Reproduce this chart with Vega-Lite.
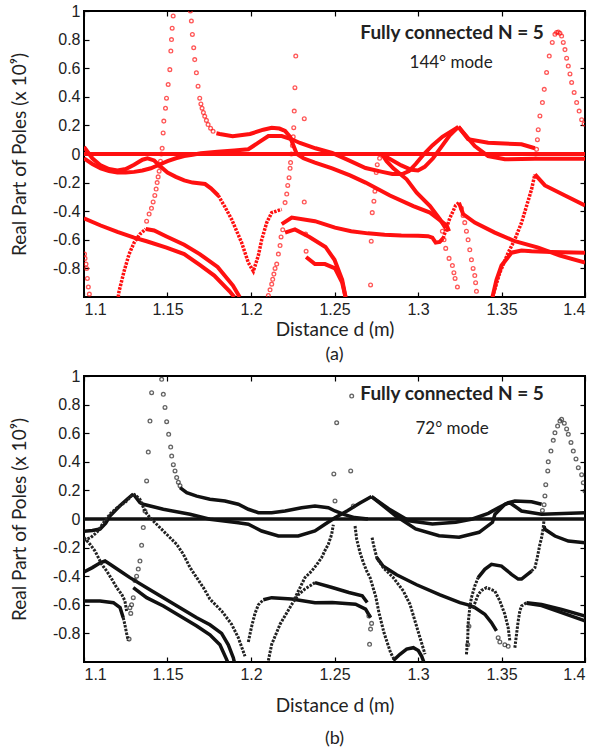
{
  "$schema": "https://vega.github.io/schema/vega-lite/v6.json",
  "padding": {"left": 9, "top": 2, "right": 5, "bottom": 5},
  "background": "white",
  "spacing": 2,
  "config": {
    "view": {"stroke": "black", "strokeWidth": 2},
    "axis": {"labelFont": "Liberation Sans", "labelFontSize": 16, "labelColor": "#222", "titleFont": "Lato", "titleFontSize": 19, "titleFontWeight": "normal", "titleColor": "#222", "grid": false, "domain": false, "tickColor": "black", "tickSize": -5, "tickWidth": 1.2}
  },
  "datasets": {
    "aL": [
      {"s":"z","x":1.1,"y":0},{"s":"z","x":1.4,"y":0},
      {"s":"a1","x":1.1,"y":0.05},{"s":"a1","x":1.105,"y":-0.03},{"s":"a1","x":1.11,"y":-0.08},{"s":"a1","x":1.115,"y":-0.105},{"s":"a1","x":1.12,"y":-0.115},{"s":"a1","x":1.125,"y":-0.105},{"s":"a1","x":1.13,"y":-0.075},{"s":"a1","x":1.135,"y":-0.04},{"s":"a1","x":1.138,"y":-0.03},{"s":"a1","x":1.142,"y":-0.045},{"s":"a1","x":1.146,"y":-0.09},{"s":"a1","x":1.15,"y":-0.13},{"s":"a1","x":1.155,"y":-0.16},{"s":"a1","x":1.16,"y":-0.185},{"s":"a1","x":1.165,"y":-0.2},{"s":"a1","x":1.1725,"y":-0.21},{"s":"a1","x":1.176,"y":-0.24},{"s":"a1","x":1.1804,"y":-0.29},
      {"s":"a2","x":1.1,"y":-0.03},{"s":"a2","x":1.105,"y":-0.07},{"s":"a2","x":1.11,"y":-0.1},{"s":"a2","x":1.115,"y":-0.12},{"s":"a2","x":1.12,"y":-0.13},{"s":"a2","x":1.125,"y":-0.13},{"s":"a2","x":1.13,"y":-0.125},{"s":"a2","x":1.135,"y":-0.115},{"s":"a2","x":1.14,"y":-0.1},{"s":"a2","x":1.145,"y":-0.075},{"s":"a2","x":1.15,"y":-0.05},{"s":"a2","x":1.155,"y":-0.03},{"s":"a2","x":1.16,"y":-0.015},{"s":"a2","x":1.165,"y":-0.005},{"s":"a2","x":1.17,"y":0.005},{"s":"a2","x":1.18,"y":0.015},{"s":"a2","x":1.19,"y":0.025},{"s":"a2","x":1.1984,"y":0.033},{"s":"a2","x":1.2044,"y":0.079},{"s":"a2","x":1.2104,"y":0.126},{"s":"a2","x":1.2184,"y":0.126},{"s":"a2","x":1.2244,"y":0.103},{"s":"a2","x":1.2293,"y":0.077},{"s":"a2","x":1.2386,"y":0.04},{"s":"a2","x":1.2486,"y":0.007},{"s":"a2","x":1.2586,"y":-0.045},{"s":"a2","x":1.2686,"y":-0.098},{"s":"a2","x":1.2786,"y":-0.125},{"s":"a2","x":1.2846,"y":-0.14},{"s":"a2","x":1.2906,"y":-0.14},{"s":"a2","x":1.2946,"y":-0.12},{"s":"a2","x":1.2986,"y":-0.07},{"s":"a2","x":1.3036,"y":0.0},{"s":"a2","x":1.3086,"y":0.06},{"s":"a2","x":1.3146,"y":0.12},{"s":"a2","x":1.3242,"y":0.19},
      {"s":"a2b","x":1.3242,"y":0.19},{"s":"a2b","x":1.334,"y":0.056},{"s":"a2b","x":1.342,"y":-0.014},{"s":"a2b","x":1.352,"y":-0.037},{"s":"a2b","x":1.37,"y":-0.033},{"s":"a2b","x":1.4,"y":-0.033},
      {"s":"a2c","x":1.3242,"y":0.19},{"s":"a2c","x":1.33,"y":0.103},{"s":"a2c","x":1.342,"y":0.079},{"s":"a2c","x":1.362,"y":0.068},{"s":"a2c","x":1.37,"y":0.04},
      {"s":"a3","x":1.1793,"y":0.145},{"s":"a3","x":1.1813,"y":0.14},{"s":"a3","x":1.189,"y":0.124},{"s":"a3","x":1.1994,"y":0.14},{"s":"a3","x":1.2074,"y":0.17},{"s":"a3","x":1.2124,"y":0.184},{"s":"a3","x":1.217,"y":0.178},{"s":"a3","x":1.2204,"y":0.161},{"s":"a3","x":1.2234,"y":0.12},{"s":"a3","x":1.2254,"y":0.06},{"s":"a3","x":1.2274,"y":0.0},{"s":"a3","x":1.2314,"y":-0.03},{"s":"a3","x":1.2383,"y":-0.06},{"s":"a3","x":1.2486,"y":-0.1},{"s":"a3","x":1.2593,"y":-0.15},{"s":"a3","x":1.2686,"y":-0.2},{"s":"a3","x":1.2832,"y":-0.29},{"s":"a3","x":1.2972,"y":-0.364},{"s":"a3","x":1.3072,"y":-0.41},{"s":"a3","x":1.3172,"y":-0.5},{"s":"a3","x":1.3186,"y":-0.54},
      {"s":"a4a","x":1.2786,"y":-0.005},{"s":"a4a","x":1.2812,"y":-0.05},{"s":"a4a","x":1.2852,"y":-0.1},{"s":"a4a","x":1.2932,"y":-0.177},{"s":"a4a","x":1.2992,"y":-0.27},{"s":"a4a","x":1.3072,"y":-0.364},{"s":"a4a","x":1.3132,"y":-0.457},{"s":"a4a","x":1.3166,"y":-0.52},
      {"s":"a4b","x":1.2786,"y":-0.005},{"s":"a4b","x":1.284,"y":-0.04},{"s":"a4b","x":1.29,"y":-0.08},{"s":"a4b","x":1.296,"y":-0.11},{"s":"a4b","x":1.3,"y":-0.115},{"s":"a4b","x":1.304,"y":-0.09},{"s":"a4b","x":1.309,"y":-0.03},{"s":"a4b","x":1.314,"y":0.05},{"s":"a4b","x":1.319,"y":0.13},{"s":"a4b","x":1.3242,"y":0.19},
      {"s":"a5a","x":1.2184,"y":-0.49},{"s":"a5a","x":1.2244,"y":-0.445},{"s":"a5a","x":1.2383,"y":-0.47},{"s":"a5a","x":1.2503,"y":-0.515},{"s":"a5a","x":1.26,"y":-0.54},{"s":"a5a","x":1.27,"y":-0.555},{"s":"a5a","x":1.28,"y":-0.565},{"s":"a5a","x":1.29,"y":-0.57},{"s":"a5a","x":1.3,"y":-0.572},{"s":"a5a","x":1.306,"y":-0.575},{"s":"a5a","x":1.3086,"y":-0.585},{"s":"a5a","x":1.3106,"y":-0.62},{"s":"a5a","x":1.313,"y":-0.615},{"s":"a5a","x":1.315,"y":-0.59},
      {"s":"a5a2","x":1.3245,"y":-0.34},{"s":"a5a2","x":1.327,"y":-0.42},{"s":"a5a2","x":1.334,"y":-0.48},{"s":"a5a2","x":1.346,"y":-0.55},{"s":"a5a2","x":1.358,"y":-0.61},{"s":"a5a2","x":1.372,"y":-0.655},{"s":"a5a2","x":1.385,"y":-0.71},{"s":"a5a2","x":1.4,"y":-0.76},
      {"s":"a5b","x":1.2204,"y":-0.55},{"s":"a5b","x":1.2263,"y":-0.527},{"s":"a5b","x":1.235,"y":-0.58},{"s":"a5b","x":1.2446,"y":-0.65},{"s":"a5b","x":1.25,"y":-0.74},{"s":"a5b","x":1.2546,"y":-0.88},{"s":"a5b","x":1.2566,"y":-1.0},
      {"s":"a5c","x":1.233,"y":-0.72},{"s":"a5c","x":1.2383,"y":-0.77},{"s":"a5c","x":1.2443,"y":-0.77},{"s":"a5c","x":1.2503,"y":-0.8},{"s":"a5c","x":1.2546,"y":-0.9},{"s":"a5c","x":1.2566,"y":-1.0},
      {"s":"L1","x":1.1,"y":-0.45},{"s":"L1","x":1.11,"y":-0.5},{"s":"L1","x":1.12,"y":-0.545},{"s":"L1","x":1.13,"y":-0.585},{"s":"L1","x":1.1375,"y":-0.61},{"s":"L1","x":1.1494,"y":-0.654},{"s":"L1","x":1.16,"y":-0.7},{"s":"L1","x":1.1693,"y":-0.776},{"s":"L1","x":1.178,"y":-0.85},{"s":"L1","x":1.1872,"y":-0.96},{"s":"L1","x":1.19,"y":-1.0},
      {"s":"L2","x":1.137,"y":-0.525},{"s":"L2","x":1.142,"y":-0.535},{"s":"L2","x":1.1494,"y":-0.577},{"s":"L2","x":1.16,"y":-0.635},{"s":"L2","x":1.1693,"y":-0.7},{"s":"L2","x":1.18,"y":-0.79},{"s":"L2","x":1.1892,"y":-0.92},{"s":"L2","x":1.1932,"y":-1.0},
      {"s":"R1d","x":1.37,"y":-0.142},{"s":"R1d","x":1.376,"y":-0.22},{"s":"R1d","x":1.388,"y":-0.29},{"s":"R1d","x":1.4,"y":-0.36},
      {"s":"R2","x":1.3446,"y":-1.0},{"s":"R2","x":1.347,"y":-0.88},{"s":"R2","x":1.35,"y":-0.78},{"s":"R2","x":1.356,"y":-0.69},{"s":"R2","x":1.362,"y":-0.675},{"s":"R2","x":1.368,"y":-0.68},{"s":"R2","x":1.38,"y":-0.685},{"s":"R2","x":1.4,"y":-0.69}
    ],
    "aB": [
      {"s":"v","x":1.1804,"y":-0.29},{"s":"v","x":1.1844,"y":-0.37},{"s":"v","x":1.1884,"y":-0.457},{"s":"v","x":1.1944,"y":-0.62},{"s":"v","x":1.1984,"y":-0.76},{"s":"v","x":1.2014,"y":-0.82},{"s":"v","x":1.2044,"y":-0.71},{"s":"v","x":1.2064,"y":-0.6},{"s":"v","x":1.2094,"y":-0.48},{"s":"v","x":1.2124,"y":-0.41},{"s":"v","x":1.2184,"y":-0.387},
      {"s":"L2r","x":1.1205,"y":-1.0},{"s":"L2r","x":1.121,"y":-0.96},{"s":"L2r","x":1.124,"y":-0.82},{"s":"L2r","x":1.127,"y":-0.7},{"s":"L2r","x":1.13,"y":-0.62},{"s":"L2r","x":1.1335,"y":-0.56},{"s":"L2r","x":1.137,"y":-0.525},
      {"s":"R1r","x":1.3446,"y":-1.0},{"s":"R1r","x":1.349,"y":-0.83},{"s":"R1r","x":1.354,"y":-0.69},{"s":"R1r","x":1.358,"y":-0.597},{"s":"R1r","x":1.362,"y":-0.48},{"s":"R1r","x":1.365,"y":-0.364},{"s":"R1r","x":1.368,"y":-0.247},{"s":"R1r","x":1.37,"y":-0.142},
      {"s":"up","x":1.315,"y":-0.59},{"s":"up","x":1.317,"y":-0.52},{"s":"up","x":1.319,"y":-0.45},{"s":"up","x":1.321,"y":-0.4},{"s":"up","x":1.3225,"y":-0.36},{"s":"up","x":1.3245,"y":-0.34}
    ],
    "aD": [
      {"x":1.1003,"y":-0.7},{"x":1.1006,"y":-0.73},{"x":1.1012,"y":-0.77},{"x":1.1016,"y":-0.8},{"x":1.102,"y":-0.87},{"x":1.1026,"y":-0.93},{"x":1.1032,"y":-0.98},
      {"x":1.1375,"y":-0.47},{"x":1.139,"y":-0.42},{"x":1.1404,"y":-0.38},{"x":1.1414,"y":-0.335},{"x":1.1424,"y":-0.29},{"x":1.1432,"y":-0.245},{"x":1.1438,"y":-0.2},{"x":1.1444,"y":-0.16},{"x":1.145,"y":-0.12},{"x":1.1454,"y":-0.085},{"x":1.1458,"y":-0.05},{"x":1.1463,"y":0.0},{"x":1.1468,"y":0.04},{"x":1.1474,"y":0.147},{"x":1.1478,"y":0.23},{"x":1.1488,"y":0.32},{"x":1.1494,"y":0.39},{"x":1.1504,"y":0.486},{"x":1.1514,"y":0.59},{"x":1.152,"y":0.72},{"x":1.1524,"y":0.8},{"x":1.1528,"y":0.88},{"x":1.1534,"y":0.965},
      {"x":1.1637,"y":1.0},{"x":1.1643,"y":0.93},{"x":1.1649,"y":0.836},{"x":1.1657,"y":0.743},{"x":1.1663,"y":0.66},{"x":1.1673,"y":0.568},{"x":1.1683,"y":0.474},{"x":1.1693,"y":0.39},{"x":1.17,"y":0.35},{"x":1.1707,"y":0.32},{"x":1.1715,"y":0.29},{"x":1.1723,"y":0.264},{"x":1.1733,"y":0.235},{"x":1.1743,"y":0.206},{"x":1.1758,"y":0.18},{"x":1.1773,"y":0.159},
      {"x":1.2204,"y":-0.34},{"x":1.2214,"y":-0.28},{"x":1.222,"y":-0.22},{"x":1.2228,"y":-0.166},{"x":1.2234,"y":-0.1},{"x":1.2237,"y":-0.06},{"x":1.2242,"y":0.0},{"x":1.2248,"y":0.06},{"x":1.2253,"y":0.12},{"x":1.2256,"y":0.184},{"x":1.2259,"y":0.3},{"x":1.2263,"y":0.464},{"x":1.2268,"y":0.685},
      {"x":1.2319,"y":0.247},{"x":1.2319,"y":-0.336},{"x":1.2327,"y":-0.56},{"x":1.233,"y":-0.68},
      {"x":1.2104,"y":-0.99},{"x":1.2114,"y":-0.95},{"x":1.2124,"y":-0.91},{"x":1.213,"y":-0.876},{"x":1.2137,"y":-0.84},{"x":1.2144,"y":-0.8},{"x":1.2154,"y":-0.77},{"x":1.2164,"y":-0.7},{"x":1.2174,"y":-0.64},{"x":1.218,"y":-0.58},{"x":1.219,"y":-0.53},
      {"x":1.2716,"y":-0.916},{"x":1.272,"y":-0.61},{"x":1.2726,"y":-0.41},{"x":1.2736,"y":-0.33},{"x":1.2742,"y":-0.26},{"x":1.275,"y":-0.13},{"x":1.2756,"y":-0.075},{"x":1.277,"y":-0.03},
      {"x":1.326,"y":-0.38},{"x":1.327,"y":-0.43},{"x":1.328,"y":-0.48},{"x":1.329,"y":-0.54},{"x":1.33,"y":-0.6},{"x":1.331,"y":-0.67},{"x":1.332,"y":-0.74},{"x":1.333,"y":-0.8},{"x":1.334,"y":-0.85},{"x":1.3345,"y":-0.9},{"x":1.335,"y":-0.96},
      {"x":1.3146,"y":-0.54},{"x":1.3156,"y":-0.6},{"x":1.3166,"y":-0.66},{"x":1.3186,"y":-0.73},{"x":1.3206,"y":-0.78},{"x":1.3215,"y":-0.83},{"x":1.3222,"y":-0.87},{"x":1.3236,"y":-0.93},
      {"x":1.3705,"y":0.0},{"x":1.371,"y":0.033},{"x":1.3715,"y":0.1},{"x":1.372,"y":0.17},{"x":1.373,"y":0.266},{"x":1.3745,"y":0.36},{"x":1.3756,"y":0.452},{"x":1.377,"y":0.57},{"x":1.3786,"y":0.685},{"x":1.3804,"y":0.78},{"x":1.382,"y":0.837},{"x":1.383,"y":0.85},{"x":1.384,"y":0.853},{"x":1.385,"y":0.845},{"x":1.386,"y":0.825},{"x":1.387,"y":0.78},{"x":1.388,"y":0.73},{"x":1.389,"y":0.67},{"x":1.39,"y":0.615},{"x":1.391,"y":0.56},{"x":1.392,"y":0.5},{"x":1.3935,"y":0.43},{"x":1.395,"y":0.36},{"x":1.3965,"y":0.3},{"x":1.398,"y":0.24},{"x":1.3995,"y":0.21}
    ],
    "bL": [
      {"s":"z","x":1.1,"y":0},{"s":"z","x":1.4,"y":0},
      {"s":"b1","x":1.1,"y":-0.085},{"s":"b1","x":1.105,"y":-0.08},{"s":"b1","x":1.1096,"y":-0.07},{"s":"b1","x":1.113,"y":-0.03},{"s":"b1","x":1.1155,"y":0.02},{"s":"b1","x":1.1215,"y":0.093},{"s":"b1","x":1.126,"y":0.14},{"s":"b1","x":1.1295,"y":0.175},
      {"s":"b3","x":1.1295,"y":0.175},{"s":"b3","x":1.1335,"y":0.115},{"s":"b3","x":1.1355,"y":0.103},{"s":"b3","x":1.1475,"y":0.068},{"s":"b3","x":1.1635,"y":0.033},{"s":"b3","x":1.1754,"y":-0.002},{"s":"b3","x":1.1924,"y":-0.026},{"s":"b3","x":1.1984,"y":-0.037},{"s":"b3","x":1.2064,"y":-0.084},{"s":"b3","x":1.2164,"y":-0.119},{"s":"b3","x":1.2283,"y":-0.119},{"s":"b3","x":1.2383,"y":-0.084},{"s":"b3","x":1.2443,"y":-0.037},{"s":"b3","x":1.2503,"y":0.009},{"s":"b3","x":1.258,"y":0.06},{"s":"b3","x":1.265,"y":0.11},{"s":"b3","x":1.2722,"y":0.157},
      {"s":"b4","x":1.1575,"y":0.219},{"s":"b4","x":1.1615,"y":0.184},{"s":"b4","x":1.1675,"y":0.16},{"s":"b4","x":1.1754,"y":0.138},{"s":"b4","x":1.1844,"y":0.126},{"s":"b4","x":1.1924,"y":0.103},{"s":"b4","x":1.1984,"y":0.068},{"s":"b4","x":1.2044,"y":0.044},{"s":"b4","x":1.2124,"y":0.044},{"s":"b4","x":1.2204,"y":0.056},{"s":"b4","x":1.2303,"y":0.079},{"s":"b4","x":1.2383,"y":0.091},{"s":"b4","x":1.2463,"y":0.079},{"s":"b4","x":1.2503,"y":0.056},{"s":"b4","x":1.256,"y":0.03},{"s":"b4","x":1.262,"y":0.01},{"s":"b4","x":1.27,"y":0.0},
      {"s":"b3a","x":1.2722,"y":0.157},{"s":"b3a","x":1.2826,"y":0.07},{"s":"b3a","x":1.2946,"y":-0.012},{"s":"b3a","x":1.3086,"y":-0.035},{"s":"b3a","x":1.3226,"y":-0.023},{"s":"b3a","x":1.3326,"y":0.0},{"s":"b3a","x":1.3421,"y":0.04},{"s":"b3a","x":1.3481,"y":0.079},{"s":"b3a","x":1.3541,"y":0.114},{"s":"b3a","x":1.358,"y":0.126},{"s":"b3a","x":1.368,"y":0.121},{"s":"b3a","x":1.374,"y":0.103},
      {"s":"b3b","x":1.2722,"y":0.157},{"s":"b3b","x":1.2866,"y":0.023},{"s":"b3b","x":1.2986,"y":-0.07},{"s":"b3b","x":1.3126,"y":-0.117},{"s":"b3b","x":1.3246,"y":-0.128},{"s":"b3b","x":1.3366,"y":-0.093},{"s":"b3b","x":1.3446,"y":-0.023},{"s":"b3b","x":1.3461,"y":0.033},{"s":"b3b","x":1.3521,"y":0.103},{"s":"b3b","x":1.355,"y":0.114},{"s":"b3b","x":1.362,"y":0.056},{"s":"b3b","x":1.374,"y":0.033},{"s":"b3b","x":1.4,"y":0.044},
      {"s":"b3c","x":1.3755,"y":-0.05},{"s":"b3c","x":1.376,"y":-0.072},{"s":"b3c","x":1.382,"y":-0.119},{"s":"b3c","x":1.39,"y":-0.154},{"s":"b3c","x":1.4,"y":-0.166},
      {"s":"b5","x":1.1,"y":-0.37},{"s":"b5","x":1.105,"y":-0.34},{"s":"b5","x":1.11,"y":-0.305},{"s":"b5","x":1.1126,"y":-0.294},{"s":"b5","x":1.1156,"y":-0.317},{"s":"b5","x":1.1216,"y":-0.364},{"s":"b5","x":1.1275,"y":-0.41},{"s":"b5","x":1.1375,"y":-0.48},{"s":"b5","x":1.1475,"y":-0.55},{"s":"b5","x":1.1575,"y":-0.62},{"s":"b5","x":1.1675,"y":-0.69},{"s":"b5","x":1.1754,"y":-0.74},{"s":"b5","x":1.1824,"y":-0.8},{"s":"b5","x":1.1864,"y":-0.88},{"s":"b5","x":1.1894,"y":-0.97},{"s":"b5","x":1.19,"y":-1.0},
      {"s":"b6","x":1.1295,"y":-0.48},{"s":"b6","x":1.1375,"y":-0.55},{"s":"b6","x":1.1475,"y":-0.608},{"s":"b6","x":1.1575,"y":-0.678},{"s":"b6","x":1.1675,"y":-0.748},{"s":"b6","x":1.1754,"y":-0.81},{"s":"b6","x":1.1814,"y":-0.88},{"s":"b6","x":1.1853,"y":-0.98},{"s":"b6","x":1.186,"y":-1.0},
      {"s":"b7","x":1.1,"y":-0.573},{"s":"b7","x":1.1096,"y":-0.573},{"s":"b7","x":1.1176,"y":-0.585},{"s":"b7","x":1.1216,"y":-0.62},{"s":"b7","x":1.1235,"y":-0.69},
      {"s":"b8","x":1.2074,"y":-0.565},{"s":"b8","x":1.2124,"y":-0.55},{"s":"b8","x":1.2244,"y":-0.56},{"s":"b8","x":1.2383,"y":-0.585},{"s":"b8","x":1.2486,"y":-0.584},{"s":"b8","x":1.2626,"y":-0.596},{"s":"b8","x":1.2686,"y":-0.63},{"s":"b8","x":1.2716,"y":-0.69},
      {"s":"b9","x":1.2383,"y":-0.445},{"s":"b9","x":1.2486,"y":-0.479},{"s":"b9","x":1.2586,"y":-0.514},{"s":"b9","x":1.2666,"y":-0.537},{"s":"b9","x":1.2696,"y":-0.584},
      {"s":"Lx","x":1.2753,"y":-0.27},{"s":"Lx","x":1.2792,"y":-0.33},{"s":"Lx","x":1.2872,"y":-0.39},{"s":"Lx","x":1.2992,"y":-0.46},{"s":"Lx","x":1.3132,"y":-0.53},{"s":"Lx","x":1.3251,"y":-0.585},{"s":"Lx","x":1.33,"y":-0.6},{"s":"Lx","x":1.334,"y":-0.62},{"s":"Lx","x":1.34,"y":-0.666},{"s":"Lx","x":1.344,"y":-0.725},{"s":"Lx","x":1.347,"y":-0.783},
      {"s":"hu","x":1.2852,"y":-0.99},{"s":"hu","x":1.2892,"y":-0.946},{"s":"hu","x":1.2932,"y":-0.91},{"s":"hu","x":1.2972,"y":-0.9},{"s":"hu","x":1.3002,"y":-0.92},{"s":"hu","x":1.3022,"y":-0.96},{"s":"hu","x":1.3035,"y":-1.0},
      {"s":"r1","x":1.365,"y":-0.585},{"s":"r1","x":1.374,"y":-0.597},{"s":"r1","x":1.386,"y":-0.632},{"s":"r1","x":1.4,"y":-0.678},
      {"s":"r2","x":1.365,"y":-0.59},{"s":"r2","x":1.374,"y":-0.605},{"s":"r2","x":1.386,"y":-0.655},{"s":"r2","x":1.4,"y":-0.713},
      {"s":"wm","x":1.336,"y":-0.41},{"s":"wm","x":1.34,"y":-0.352},{"s":"wm","x":1.344,"y":-0.317},{"s":"wm","x":1.35,"y":-0.329},{"s":"wm","x":1.356,"y":-0.387},{"s":"wm","x":1.36,"y":-0.42},{"s":"wm","x":1.362,"y":-0.42},{"s":"wm","x":1.368,"y":-0.364}
    ],
    "bB": [
      {"s":"b2","x":1.1,"y":-0.15},{"s":"b2","x":1.104,"y":-0.13},{"s":"b2","x":1.108,"y":-0.09},{"s":"b2","x":1.112,"y":-0.02},{"s":"b2","x":1.116,"y":0.04},{"s":"b2","x":1.12,"y":0.08},{"s":"b2","x":1.125,"y":0.12},{"s":"b2","x":1.1295,"y":0.175},
      {"s":"de","x":1.1295,"y":0.175},{"s":"de","x":1.1315,"y":0.16},{"s":"de","x":1.1335,"y":0.138},{"s":"de","x":1.1365,"y":0.054},{"s":"de","x":1.1395,"y":0.009},{"s":"de","x":1.1435,"y":-0.037},{"s":"de","x":1.1495,"y":-0.107},{"s":"de","x":1.1555,"y":-0.177},{"s":"de","x":1.1595,"y":-0.247},{"s":"de","x":1.1635,"y":-0.34},{"s":"de","x":1.1675,"y":-0.41},{"s":"de","x":1.1715,"y":-0.48},{"s":"de","x":1.1754,"y":-0.56},{"s":"de","x":1.1824,"y":-0.643},{"s":"de","x":1.1884,"y":-0.736},{"s":"de","x":1.1924,"y":-0.83},{"s":"de","x":1.1964,"y":-0.96},
      {"s":"b2d","x":1.1,"y":-0.13},{"s":"b2d","x":1.1016,"y":-0.15},{"s":"b2d","x":1.1036,"y":-0.177},{"s":"b2d","x":1.1066,"y":-0.224},{"s":"b2d","x":1.1086,"y":-0.27},{"s":"b2d","x":1.1106,"y":-0.317},{"s":"b2d","x":1.1136,"y":-0.364},{"s":"b2d","x":1.1166,"y":-0.42},{"s":"b2d","x":1.1196,"y":-0.48},{"s":"b2d","x":1.1226,"y":-0.527},{"s":"b2d","x":1.1245,"y":-0.573},{"s":"b2d","x":1.1255,"y":-0.643},
      {"s":"vr","x":1.1984,"y":-0.86},{"s":"vr","x":1.2004,"y":-0.75},{"s":"vr","x":1.2024,"y":-0.66},{"s":"vr","x":1.2044,"y":-0.6},{"s":"vr","x":1.2074,"y":-0.565},
      {"s":"ri","x":1.2104,"y":-0.99},{"s":"ri","x":1.2124,"y":-0.876},{"s":"ri","x":1.2174,"y":-0.736},{"s":"ri","x":1.2244,"y":-0.597},{"s":"ri","x":1.2283,"y":-0.53},{"s":"ri","x":1.2323,"y":-0.49},{"s":"ri","x":1.2383,"y":-0.445},
      {"s":"ub","x":1.226,"y":-0.56},{"s":"ub","x":1.2323,"y":-0.41},{"s":"ub","x":1.2363,"y":-0.364},{"s":"ub","x":1.2393,"y":-0.32},{"s":"ub","x":1.2423,"y":-0.27},{"s":"ub","x":1.2443,"y":-0.22},{"s":"ub","x":1.2463,"y":-0.177},{"s":"ub","x":1.2483,"y":-0.107},{"s":"ub","x":1.2493,"y":-0.04},
      {"s":"Da","x":1.2623,"y":-0.049},{"s":"Da","x":1.2633,"y":-0.142},{"s":"Da","x":1.2653,"y":-0.236},{"s":"Da","x":1.2673,"y":-0.306},{"s":"Da","x":1.2693,"y":-0.364},{"s":"Da","x":1.2713,"y":-0.41},{"s":"Da","x":1.2736,"y":-0.5},{"s":"Da","x":1.2746,"y":-0.537},{"s":"Da","x":1.2766,"y":-0.654},{"s":"Da","x":1.2796,"y":-0.794},{"s":"Da","x":1.2836,"y":-0.935},{"s":"Da","x":1.2856,"y":-0.98},
      {"s":"Db","x":1.2725,"y":-0.13},{"s":"Db","x":1.2733,"y":-0.177},{"s":"Db","x":1.2753,"y":-0.27},{"s":"Db","x":1.2792,"y":-0.34},{"s":"Db","x":1.2852,"y":-0.41},{"s":"Db","x":1.2912,"y":-0.503},{"s":"Db","x":1.2952,"y":-0.597},{"s":"Db","x":1.2982,"y":-0.713},{"s":"Db","x":1.3012,"y":-0.83},{"s":"Db","x":1.3042,"y":-0.946},
      {"s":"wl","x":1.329,"y":-0.946},{"s":"wl","x":1.3298,"y":-0.83},{"s":"wl","x":1.33,"y":-0.736},{"s":"wl","x":1.331,"y":-0.62},{"s":"wl","x":1.332,"y":-0.55},{"s":"wl","x":1.334,"y":-0.469},{"s":"wl","x":1.336,"y":-0.41},
      {"s":"wr","x":1.368,"y":-0.364},{"s":"wr","x":1.37,"y":-0.34},{"s":"wr","x":1.371,"y":-0.294},{"s":"wr","x":1.372,"y":-0.236},{"s":"wr","x":1.373,"y":-0.177},{"s":"wr","x":1.374,"y":-0.131},{"s":"wr","x":1.375,"y":-0.061},{"s":"wr","x":1.3755,"y":0.0},
      {"s":"lh","x":1.333,"y":-0.62},{"s":"lh","x":1.336,"y":-0.53},{"s":"lh","x":1.338,"y":-0.5},{"s":"lh","x":1.341,"y":-0.48},{"s":"lh","x":1.346,"y":-0.503},{"s":"lh","x":1.349,"y":-0.573},{"s":"lh","x":1.352,"y":-0.666},{"s":"lh","x":1.354,"y":-0.76},{"s":"lh","x":1.355,"y":-0.853},
      {"s":"rv","x":1.358,"y":-0.9},{"s":"rv","x":1.359,"y":-0.806},{"s":"rv","x":1.36,"y":-0.713},{"s":"rv","x":1.361,"y":-0.643},{"s":"rv","x":1.362,"y":-0.608},{"s":"rv","x":1.365,"y":-0.585},
      {"s":"b7d","x":1.1235,"y":-0.69},{"s":"b7d","x":1.1245,"y":-0.74},{"s":"b7d","x":1.1255,"y":-0.8},{"s":"b7d","x":1.1265,"y":-0.85}
    ],
    "bD": [
      {"x":1.1285,"y":-0.6},{"x":1.1295,"y":-0.55},{"x":1.1305,"y":-0.43},{"x":1.1315,"y":-0.4},{"x":1.1325,"y":-0.35},{"x":1.1335,"y":-0.294},{"x":1.1345,"y":-0.184},{"x":1.1355,"y":-0.06},{"x":1.1365,"y":0.056},{"x":1.1375,"y":0.266},{"x":1.1385,"y":0.468},{"x":1.1395,"y":0.685},{"x":1.1405,"y":0.883},{"x":1.1465,"y":0.977},{"x":1.1475,"y":0.872},{"x":1.1485,"y":0.78},{"x":1.1495,"y":0.68},{"x":1.1507,"y":0.592},{"x":1.1519,"y":0.503},{"x":1.1525,"y":0.44},{"x":1.1535,"y":0.38},{"x":1.1545,"y":0.336},{"x":1.1555,"y":0.29},{"x":1.1565,"y":0.257},{"x":1.1575,"y":0.233},
      {"x":1.127,"y":-0.84},{"x":1.1275,"y":-0.62},{"x":1.128,"y":-0.66},
      {"x":1.2503,"y":0.126},{"x":1.2496,"y":0.315},{"x":1.2513,"y":0.673},{"x":1.2603,"y":0.86},{"x":1.2597,"y":0.336},{"x":1.2613,"y":0.091},
      {"x":1.3745,"y":0.06},{"x":1.3755,"y":0.1},{"x":1.376,"y":0.161},{"x":1.3765,"y":0.24},{"x":1.3777,"y":0.336},{"x":1.378,"y":0.4},{"x":1.3796,"y":0.475},{"x":1.381,"y":0.55},{"x":1.382,"y":0.603},{"x":1.3836,"y":0.65},{"x":1.385,"y":0.685},{"x":1.386,"y":0.697},{"x":1.3876,"y":0.67},{"x":1.389,"y":0.63},{"x":1.39,"y":0.592},{"x":1.3916,"y":0.535},{"x":1.393,"y":0.475},{"x":1.3946,"y":0.42},{"x":1.396,"y":0.359},{"x":1.398,"y":0.31},{"x":1.399,"y":0.254},{"x":1.4,"y":0.196},
      {"x":1.2706,"y":-0.678},{"x":1.2716,"y":-0.77},{"x":1.271,"y":-0.876},{"x":1.2722,"y":-0.73},{"x":1.3305,"y":-0.75},{"x":1.352,"y":-0.88},{"x":1.354,"y":-0.89},{"x":1.348,"y":-0.83},{"x":1.349,"y":-0.86},{"x":1.3298,"y":-0.88}
    ]
  },
  "vconcat": [
    {
      "width": 501, "height": 286,
      "title": {"text": "(a)", "orient": "bottom", "font": "Lato", "fontSize": 18, "fontWeight": "normal", "color": "#222", "offset": 7},
      "resolve": {"axis": {"x": "independent", "y": "independent"}},
      "layer": [
        {"data": {"name": "aL"}, "mark": {"type": "line", "color": "#ff1010", "strokeWidth": 4, "clip": true},
         "encoding": {
           "x": {"field": "x", "type": "quantitative", "scale": {"domain": [1.1, 1.4], "nice": false, "zero": false},
                 "axis": {"orient": "bottom", "values": [1.1, 1.15, 1.2, 1.25, 1.3, 1.35, 1.4], "labelExpr": "'' + datum.value", "title": "Distance d (m)", "labelPadding": 9, "titlePadding": 3}},
           "y": {"field": "y", "type": "quantitative", "scale": {"domain": [-1, 1], "nice": false, "zero": false},
                 "axis": {"orient": "left", "values": [-0.8, -0.6, -0.4, -0.2, 0, 0.2, 0.4, 0.6, 0.8, 1], "labelExpr": "'' + datum.value", "title": "Real Part of Poles (x 10⁹)", "labelPadding": 9, "titlePadding": 23}},
           "detail": {"field": "s"}, "order": {"value": null}}},
        {"data": {"name": "aB"}, "mark": {"type": "line", "color": "#ff1010", "strokeWidth": 3.5, "strokeDash": [2.5, 1.2], "clip": true},
         "encoding": {"x": {"field": "x", "type": "quantitative", "axis": null}, "y": {"field": "y", "type": "quantitative", "axis": null}, "detail": {"field": "s"}, "order": {"value": null}}},
        {"data": {"name": "aD"}, "mark": {"type": "point", "shape": "circle", "filled": false, "color": "#ff1010", "size": 14, "strokeWidth": 1.3, "clip": true},
         "encoding": {
           "x": {"field": "x", "type": "quantitative", "axis": {"orient": "top", "labels": false, "title": null, "values": [1.1, 1.15, 1.2, 1.25, 1.3, 1.35, 1.4]}},
           "y": {"field": "y", "type": "quantitative", "axis": {"orient": "right", "labels": false, "title": null, "values": [-0.8, -0.6, -0.4, -0.2, 0, 0.2, 0.4, 0.6, 0.8]}}}},
        {"data": {"values": [{"x": 1.3204, "y": 0.846, "t": "Fully connected N = 5"}]}, "mark": {"type": "text", "font": "Lato", "fontSize": 19, "fontWeight": "bold", "color": "#222"},
         "encoding": {"x": {"field": "x", "type": "quantitative", "axis": null}, "y": {"field": "y", "type": "quantitative", "axis": null}, "text": {"field": "t"}}},
        {"data": {"values": [{"x": 1.3198, "y": 0.636, "t": "144° mode"}]}, "mark": {"type": "text", "font": "Lato", "fontSize": 17, "color": "#222"},
         "encoding": {"x": {"field": "x", "type": "quantitative", "axis": null}, "y": {"field": "y", "type": "quantitative", "axis": null}, "text": {"field": "t"}}}
      ]
    },
    {
      "width": 501, "height": 286,
      "title": {"text": "(b)", "orient": "bottom", "font": "Lato", "fontSize": 18, "fontWeight": "normal", "color": "#222", "offset": 15},
      "resolve": {"axis": {"x": "independent", "y": "independent"}},
      "layer": [
        {"data": {"name": "bL"}, "mark": {"type": "line", "color": "#111", "strokeWidth": 3.5, "clip": true},
         "encoding": {
           "x": {"field": "x", "type": "quantitative", "scale": {"domain": [1.1, 1.4], "nice": false, "zero": false},
                 "axis": {"orient": "bottom", "values": [1.1, 1.15, 1.2, 1.25, 1.3, 1.35, 1.4], "labelExpr": "'' + datum.value", "title": "Distance d (m)", "labelPadding": 9, "titlePadding": 14}},
           "y": {"field": "y", "type": "quantitative", "scale": {"domain": [-1, 1], "nice": false, "zero": false},
                 "axis": {"orient": "left", "values": [-0.8, -0.6, -0.4, -0.2, 0, 0.2, 0.4, 0.6, 0.8, 1], "labelExpr": "'' + datum.value", "title": "Real Part of Poles (x 10⁹)", "labelPadding": 9, "titlePadding": 23}},
           "detail": {"field": "s"}, "order": {"value": null}}},
        {"data": {"name": "bB"}, "mark": {"type": "line", "color": "#222", "strokeWidth": 3, "strokeDash": [2.5, 1.3], "clip": true},
         "encoding": {"x": {"field": "x", "type": "quantitative", "axis": null}, "y": {"field": "y", "type": "quantitative", "axis": null}, "detail": {"field": "s"}, "order": {"value": null}}},
        {"data": {"name": "bD"}, "mark": {"type": "point", "shape": "circle", "filled": false, "color": "#222", "size": 14, "strokeWidth": 1.3, "clip": true},
         "encoding": {
           "x": {"field": "x", "type": "quantitative", "axis": {"orient": "top", "labels": false, "title": null, "values": [1.1, 1.15, 1.2, 1.25, 1.3, 1.35, 1.4]}},
           "y": {"field": "y", "type": "quantitative", "axis": {"orient": "right", "labels": false, "title": null, "values": [-0.8, -0.6, -0.4, -0.2, 0, 0.2, 0.4, 0.6, 0.8]}}}},
        {"data": {"values": [{"x": 1.3204, "y": 0.874, "t": "Fully connected N = 5"}]}, "mark": {"type": "text", "font": "Lato", "fontSize": 19, "fontWeight": "bold", "color": "#222"},
         "encoding": {"x": {"field": "x", "type": "quantitative", "axis": null}, "y": {"field": "y", "type": "quantitative", "axis": null}, "text": {"field": "t"}}},
        {"data": {"values": [{"x": 1.3204, "y": 0.629, "t": "72° mode"}]}, "mark": {"type": "text", "font": "Lato", "fontSize": 17, "color": "#222"},
         "encoding": {"x": {"field": "x", "type": "quantitative", "axis": null}, "y": {"field": "y", "type": "quantitative", "axis": null}, "text": {"field": "t"}}}
      ]
    }
  ]
}
